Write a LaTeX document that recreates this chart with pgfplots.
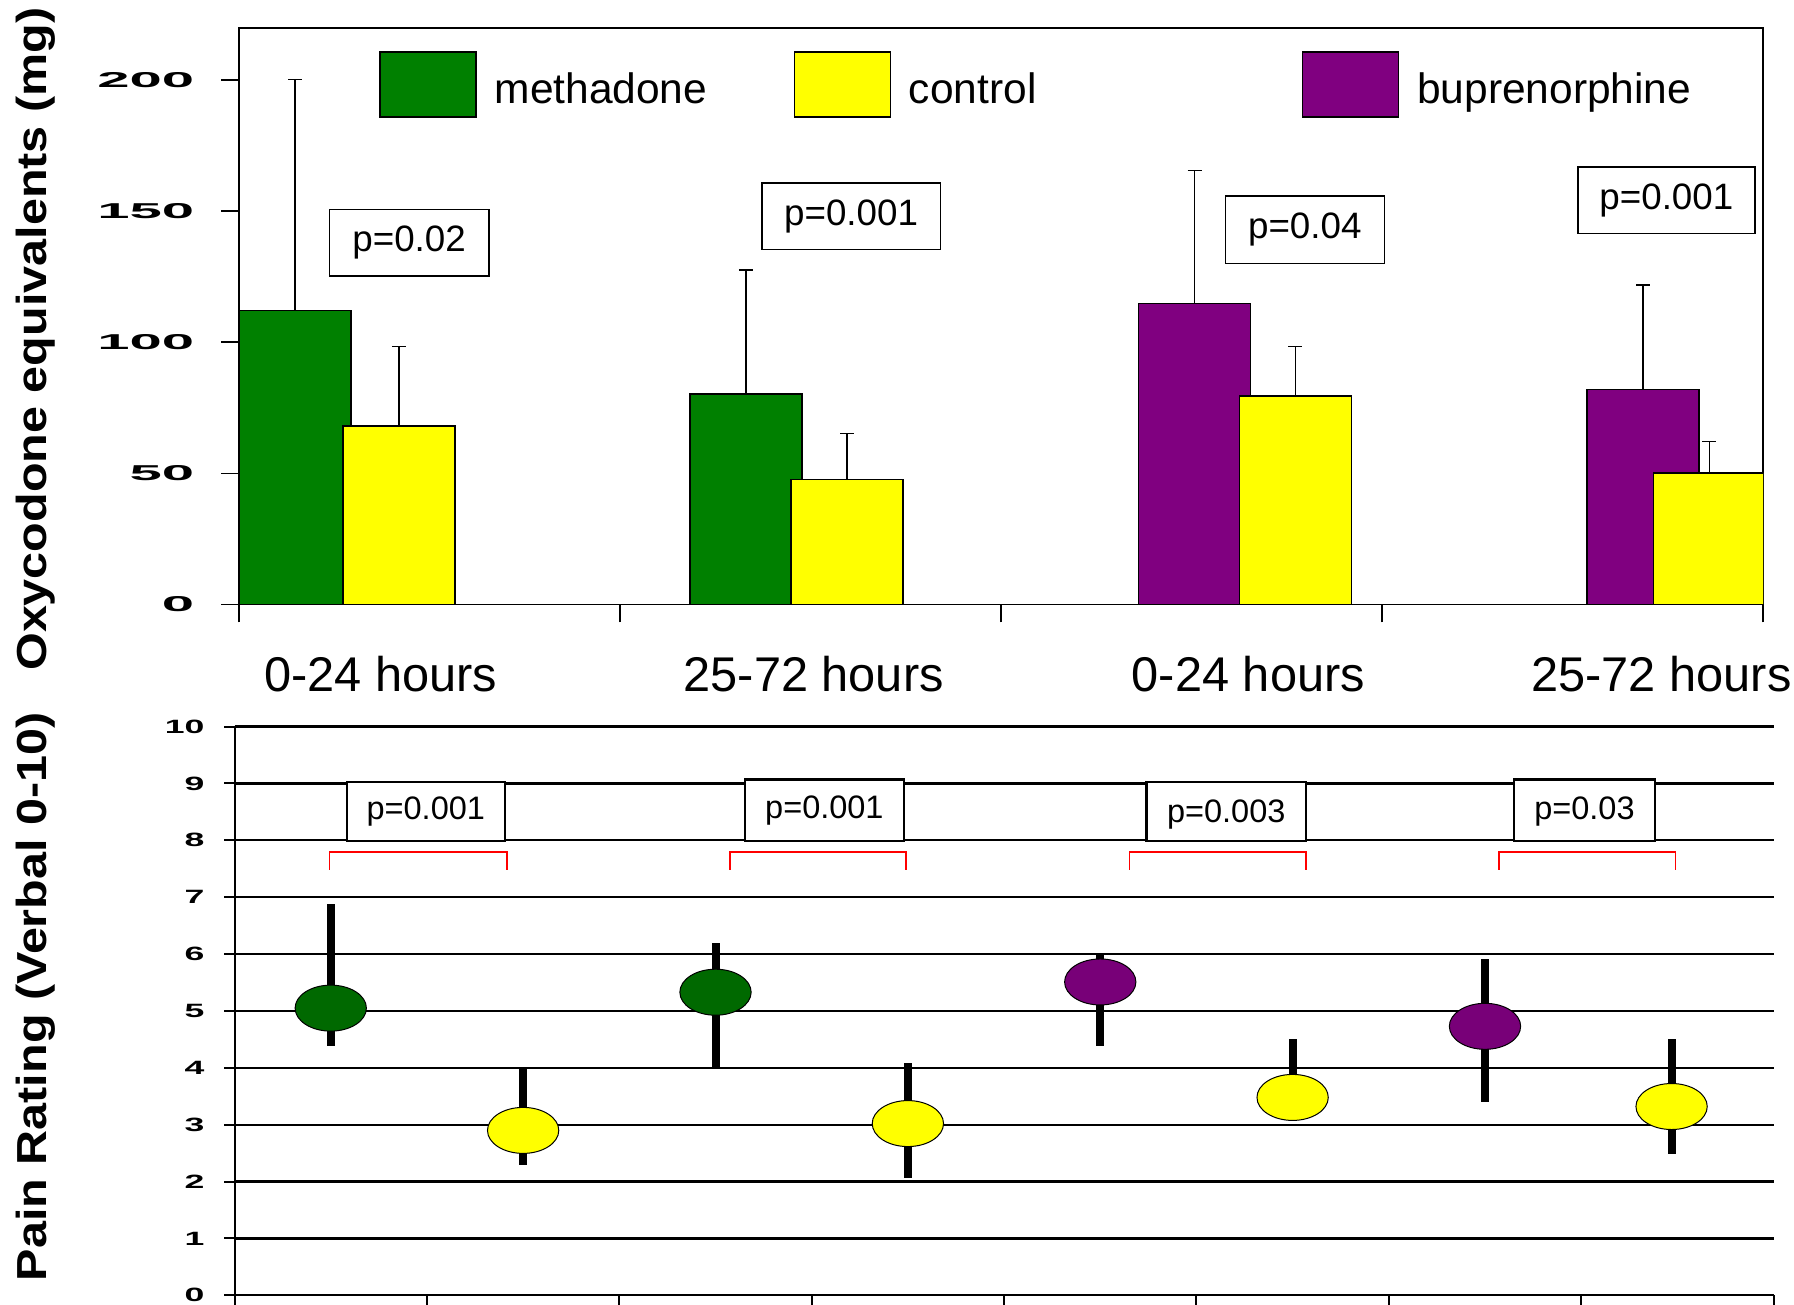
\documentclass[border=0pt]{standalone}
\usepackage{pgfplots}
\pgfplotsset{compat=1.18}
\usepackage{fontspec}
\setmainfont{Liberation Sans}
\definecolor{mgreen}{RGB}{0,128,0}
\definecolor{myellow}{RGB}{255,255,0}
\definecolor{mpurple}{RGB}{128,0,128}
\definecolor{dgreen}{RGB}{0,105,0}
\definecolor{dpurple}{RGB}{120,0,120}
\begin{document}
\begin{tikzpicture}
% ---------------- top chart ----------------
\begin{axis}[
  at={(95.66pt,280.0pt)}, anchor=south west,
  scale only axis, width=609.6pt, height=230.7pt,
  xmin=0, xmax=4, ymin=0, ymax=220,
  axis line style={line width=0.7pt},
  tick style={line width=0.7pt, black},
  tick align=outside, major tick length=7.2pt,
  xtick pos=bottom, ytick pos=left,
  xtick={0,1,2,3,4}, xticklabels={},
  extra x ticks={0.372,1.508,2.649,3.733},
  extra x tick labels={0-24 hours,25-72 hours,0-24 hours,25-72 hours},
  extra x tick style={major tick length=0pt, xticklabel style={font=\fontsize{19.5}{22}\selectfont, anchor=base, yshift=-35pt}},
  ytick={0,50,100,150,200},
  yticklabels={0,50,100,150,200},
  yticklabel style={font=\fontsize{8.6}{10}\selectfont\bfseries, xscale=2.7, anchor=east, xshift=-0.45pt},
  ylabel={\scalebox{1.155}[1]{Oxycodone equivalents (mg)}},
  every axis y label/.style={at={(rel axis cs:-0.1333,0.46)}, rotate=90, anchor=center, font=\fontsize{16.8}{20}\selectfont\bfseries},
  legend style={at={(rel axis cs:0.0916,0.96)}, anchor=north west, draw=none, fill=none, inner sep=0pt,
    font=\fontsize{17}{20}\selectfont, legend columns=3,
    /tikz/every odd column/.append style={column sep=5.05pt}},
  legend image code/.code={\draw[#1, line width=0.7pt] (0pt,-10.7pt) rectangle (38.4pt,15.3pt);},
]
\addlegendimage{fill=mgreen, draw=black}
\addlegendentry{\makebox[117.6pt][l]{methadone}}
\addlegendimage{fill=myellow, draw=black}
\addlegendentry{\makebox[155.1pt][l]{control}}
\addlegendimage{fill=mpurple, draw=black}
\addlegendentry{buprenorphine}

\addplot[ybar, bar width=0.294, fill=mgreen, draw=black, line width=0.6pt,
  error bars/.cd, y dir=plus, y explicit, error mark=|, error mark options={black, mark size=2.8pt, line width=0.6pt},
  error bar style={line width=0.6pt, black}]
  coordinates {(0.147,112.2) +- (0,88.0) (1.330,80.3) +- (0,47.3)};
\addplot[ybar, bar width=0.294, fill=mpurple, draw=black, line width=0.6pt,
  error bars/.cd, y dir=plus, y explicit, error mark=|, error mark options={black, mark size=2.8pt, line width=0.6pt},
  error bar style={line width=0.6pt, black}]
  coordinates {(2.508,114.8) +- (0,50.8) (3.685,82.1) +- (0,39.8)};
\addplot[ybar, bar width=0.294, fill=myellow, draw=black, line width=0.6pt,
  error bars/.cd, y dir=plus, y explicit, error mark=|, error mark options={black, mark size=2.8pt, line width=0.6pt},
  error bar style={line width=0.6pt, black}]
  coordinates {(0.419,68.1) +- (0,30.3) (1.596,47.6) +- (0,17.6) (2.772,79.5) +- (0,18.9) (3.859,50.2) +- (0,12.0)};

\begin{scope}[every node/.style={font=\fontsize{14.7}{17}\selectfont}]
\draw[line width=0.7pt] (axis cs:0.237,125.3) rectangle (axis cs:0.655,150.7);
\node at (axis cs:0.446,138) {p=0.02};
\draw[line width=0.7pt] (axis cs:1.372,135.4) rectangle (axis cs:1.841,160.7);
\node at (axis cs:1.606,148) {p=0.001};
\draw[line width=0.7pt] (axis cs:2.589,130.1) rectangle (axis cs:3.006,155.9);
\node at (axis cs:2.797,143) {p=0.04};
\draw[line width=0.7pt] (axis cs:3.514,141.5) rectangle (axis cs:3.979,166.8);
\node at (axis cs:3.746,154.2) {p=0.001};
\end{scope}
\end{axis}

% ---------------- bottom chart ----------------
\begin{axis}[
  at={(93.83pt,3.66pt)}, anchor=south west,
  scale only axis, width=615.6pt, height=227.5pt,
  xmin=0, xmax=8, ymin=0, ymax=10,
  axis x line=bottom, axis y line=left,
  axis line style={-, line width=0.8pt},
  tick style={line width=0.8pt, black},
  tick align=outside, major tick length=4.2pt,
  xtick={0,1,...,8}, xticklabels={},
  ytick={0,1,...,10},
  yticklabels={0,1,2,3,4,5,6,7,8,9,10},
  yticklabel style={font=\fontsize{7.7}{9}\selectfont\bfseries, xscale=1.85, anchor=east, xshift=-0.7pt},
  ymajorgrids, grid style={black, line width=0.9pt},
  ylabel={\scalebox{1.155}[1]{Pain Rating (Verbal 0-10)}},
  every axis y label/.style={at={(rel axis cs:-0.129,0.525)}, rotate=90, anchor=center, font=\fontsize{16.8}{20}\selectfont\bfseries},
  clip=false,
]
\addplot[only marks, mark=*, mark size=9.2pt, mark options={xscale=1.55, fill=dgreen, draw=black, line width=0.4pt},
  error bars/.cd, y dir=both, y explicit, error mark=none, error bar style={line width=3.2pt, black}]
  coordinates {(0.5,5.05) += (0,1.83) -= (0,0.66) (2.5,5.33) += (0,0.87) -= (0,1.33)};
\addplot[only marks, mark=*, mark size=9.2pt, mark options={xscale=1.55, fill=myellow, draw=black, line width=0.4pt},
  error bars/.cd, y dir=both, y explicit, error mark=none, error bar style={line width=3.2pt, black}]
  coordinates {(1.5,2.90) += (0,1.10) -= (0,0.61) (3.5,3.02) += (0,1.06) -= (0,0.95)
               (5.5,3.48) += (0,1.03) -= (0,0.30) (7.47,3.32) += (0,1.19) -= (0,0.83)};
\addplot[only marks, mark=*, mark size=9.2pt, mark options={xscale=1.55, fill=dpurple, draw=black, line width=0.4pt},
  error bars/.cd, y dir=both, y explicit, error mark=none, error bar style={line width=3.2pt, black}]
  coordinates {(4.5,5.51) += (0,0.51) -= (0,1.12) (6.5,4.73) += (0,1.19) -= (0,1.33)};

\begin{scope}[every node/.style={font=\fontsize{13}{15}\selectfont}]
\draw[line width=0.9pt, fill=white] (axis cs:0.583,7.99) rectangle (axis cs:1.404,9.03);
\node at (axis cs:0.994,8.5) {p=0.001};
\draw[line width=0.9pt, fill=white] (axis cs:2.653,7.99) rectangle (axis cs:3.480,9.07);
\node at (axis cs:3.066,8.52) {p=0.001};
\draw[line width=0.9pt, fill=white] (axis cs:4.741,7.99) rectangle (axis cs:5.568,9.03);
\node at (axis cs:5.155,8.46) {p=0.003};
\draw[line width=0.9pt, fill=white] (axis cs:6.651,7.99) rectangle (axis cs:7.383,9.07);
\node at (axis cs:7.017,8.5) {p=0.03};
\end{scope}
\begin{scope}[red, line width=0.7pt]
\draw (axis cs:0.494,7.48) -- (axis cs:0.494,7.79) -- (axis cs:1.416,7.79) -- (axis cs:1.416,7.48);
\draw (axis cs:2.576,7.48) -- (axis cs:2.576,7.79) -- (axis cs:3.492,7.79) -- (axis cs:3.492,7.48);
\draw (axis cs:4.652,7.48) -- (axis cs:4.652,7.79) -- (axis cs:5.568,7.79) -- (axis cs:5.568,7.48);
\draw (axis cs:6.573,7.48) -- (axis cs:6.573,7.79) -- (axis cs:7.490,7.79) -- (axis cs:7.490,7.48);
\end{scope}
\end{axis}
\pgfresetboundingbox
\path[use as bounding box] (0pt,0pt) rectangle (717.6pt,521.8pt);
\end{tikzpicture}
\end{document}
